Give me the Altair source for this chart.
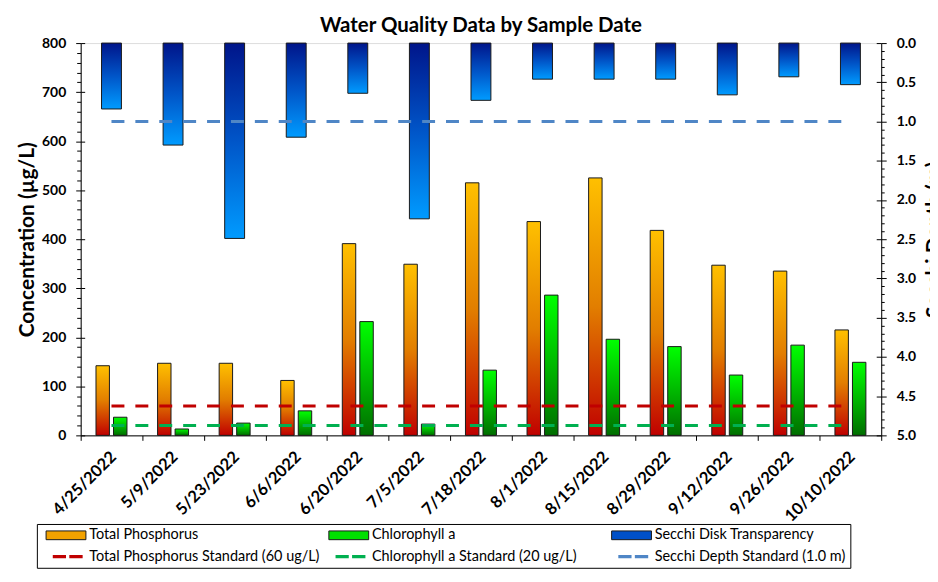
import altair as alt
import pandas as pd

# ---------------- data ----------------
dates = ["4/25/2022", "5/9/2022", "5/23/2022", "6/6/2022", "6/20/2022", "7/5/2022",
         "7/18/2022", "8/1/2022", "8/15/2022", "8/29/2022", "9/12/2022", "9/26/2022",
         "10/10/2022"]
total_phosphorus = [142, 147, 147, 112, 391, 349, 515, 436, 525, 418, 347, 335, 215]
chlorophyll_a = [37, 13, 25, 50, 232, 23, 133, 286, 196, 181, 123, 184, 149]
secchi_depth = [0.84, 1.30, 2.49, 1.20, 0.64, 2.24, 0.73, 0.46, 0.46, 0.46, 0.66, 0.43, 0.53]

tp_standard = 60
chl_standard = 20
secchi_standard = 1.0

legend_names = ["Total Phosphorus", "Chlorophyll a", "Secchi Disk Transparency",
                "Total Phosphorus Standard (60 ug/L)", "Chlorophyll a Standard (20 ug/L)",
                "Secchi Depth Standard (1.0 m)"]
conc_ticks = list(range(0, 801, 100))
conc_minor = [v for v in range(0, 801, 20) if v % 100]
secchi_ticks = [i / 2 for i in range(11)]
secchi_minor = [i / 10 for i in range(51) if i % 5]

# ---------------- tables ----------------
df = pd.DataFrame({"date": dates, "tp": total_phosphorus, "chl": chlorophyll_a,
                   "secchi": secchi_depth})
std_df = pd.DataFrame({"start": [dates[0]], "end": [dates[-1]], "tp": [tp_standard],
                       "chl": [chl_standard], "secchi": [secchi_standard]})
leg_df = pd.DataFrame({"series": legend_names, "y": [0.0] * len(legend_names)})

W, H = 804, 394
FONT = "Lato"

def grad(stops):
    return alt.LinearGradient(gradient="linear", x1=0, x2=0, y1=0, y2=1,
                              stops=[alt.GradientStop(color=c, offset=o) for o, c in stops])

tp_fill = grad([(0, "#FFC000"), (0.5, "#E27E00"), (1, "#C00000")])
chl_fill = grad([(0, "#00FF00"), (0.5, "#00B800"), (1, "#006E00")])
sec_fill = grad([(0, "#00158A"), (0.5, "#0055C8"), (1, "#009BFF")])

x_scale = alt.Scale(domain=dates, paddingInner=0, paddingOuter=0)
x_axis = alt.Axis(title=None, labelAngle=-45, labelAlign="right", labelBaseline="top",
                  labelFont=FONT, labelFontSize=16.5, labelFontWeight="bold", labelColor="black",
                  tickBand="extent", tickSize=5, tickColor="black", domainColor="black",
                  labelPadding=8, labelOffset=-4, grid=False)
X = alt.X("date:N", scale=x_scale, axis=x_axis)

conc_scale = alt.Scale(domain=[0, 800], nice=False, zero=True)
sec_scale = alt.Scale(domain=[0, 5], reverse=True, nice=False, zero=True)

axis_common = dict(grid=False, tickColor="black", domainColor="black", labelColor="black")

left_major = alt.Axis(orient="left", values=conc_ticks, title="Concentration (µg/L)",
                      labelFont=FONT, labelFontSize=14, labelFontWeight="bold",
                      tickSize=5, labelPadding=10, titleFont=FONT, titleFontSize=21,
                      titleFontWeight="bold", titleColor="black", titlePadding=4,
                      **axis_common)
left_minor = alt.Axis(orient="left", values=conc_minor, labels=False, domain=False,
                      tickSize=4, title=None, grid=False, tickColor="black")
left_inward = alt.Axis(orient="right", offset=-W, values=conc_ticks, labels=False,
                       domain=False, tickSize=4, title=None, grid=False, tickColor="black")
right_major = alt.Axis(orient="right", values=secchi_ticks, format=".1f",
                       title="Secchi Depth (m)", labelFont=FONT, labelFontSize=14,
                       labelFontWeight="bold", tickSize=5, labelPadding=10,
                       titleFont=FONT, titleFontSize=21, titleFontWeight="bold",
                       titleColor="black", titleAngle=270, titleBaseline="top",
                       titlePadding=8, **axis_common)
right_minor = alt.Axis(orient="right", values=secchi_minor, labels=False, domain=False,
                       tickSize=3, title=None, grid=False, tickColor="black")
right_inward = alt.Axis(orient="left", offset=-W, values=secchi_ticks, labels=False,
                        domain=False, tickSize=5, title=None, grid=False, tickColor="black")

base = alt.Chart(df)
std = alt.Chart(std_df)

tp_bars = base.mark_bar(fill=tp_fill, stroke="#1a1a1a", strokeWidth=1, width=13.5,
                        xOffset=-8.8).encode(
    x=X, y=alt.Y("tp:Q", scale=conc_scale, axis=left_major))
chl_bars = base.mark_bar(fill=chl_fill, stroke="#1a1a1a", strokeWidth=1, width=13.5,
                         xOffset=8.8).encode(
    x=X, y=alt.Y("chl:Q", scale=conc_scale, axis=left_minor))
sec_bars = base.mark_bar(fill=sec_fill, stroke="#1a1a1a", strokeWidth=1, width=20).encode(
    x=X, y=alt.Y("secchi:Q", scale=sec_scale, axis=right_major))

tp_std = std.mark_rule(color="#C00000", strokeWidth=3, strokeDash=[13, 11]).encode(
    x=alt.X("start:N", scale=x_scale, axis=x_axis), x2="end:N",
    y=alt.Y("tp:Q", scale=conc_scale, axis=left_inward))
chl_std = std.mark_rule(color="#00B050", strokeWidth=3, strokeDash=[13, 11]).encode(
    x=alt.X("start:N", scale=x_scale, axis=x_axis), x2="end:N",
    y=alt.Y("chl:Q", scale=conc_scale, axis=None))
sec_std = std.mark_rule(color="#4F86C6", strokeWidth=3, strokeDash=[13, 11]).encode(
    x=alt.X("start:N", scale=x_scale, axis=x_axis), x2="end:N",
    y=alt.Y("secchi:Q", scale=sec_scale, axis=right_minor))

# legend swatches: small nominal symbol size, paths reaching past the unit box;
# the dash swatch carries an empty guide segment so both swatch kinds share one extent
bar_path = "M-0.5,-1.1H9.5V1.1H-0.5Z"
dash_path = "M-0.5,0H9.5 M1.18,-0.4H4.5V0.4H1.18Z M5.33,-0.4H8.68V0.4H5.33Z"
leg_fill = ["#F2A200", "#00E000", "#0050C8", "#C00000", "#00B050", "#4F86C6"]
leg_stroke = ["#1a1a1a", "#1a1a1a", "#1a1a1a", "transparent", "transparent", "transparent"]
leg_shape = [bar_path, bar_path, bar_path, dash_path, dash_path, dash_path]

leg = alt.Legend(title=None, orient="none", legendX=-44, legendY=483,
                 direction="horizontal", columns=3, gridAlign="all", columnPadding=3,
                 rowPadding=6.5, padding=4, strokeColor="black", labelFont=FONT,
                 labelFontSize=14.5, labelColor="black", symbolSize=64,
                 symbolStrokeWidth=1, symbolOpacity=1, labelLimit=500, labelOffset=34)

legend_layer = alt.Chart(leg_df).mark_point(filled=True, opacity=0).encode(
    y=alt.Y("y:Q", scale=sec_scale, axis=right_inward),
    fill=alt.Fill("series:N", scale=alt.Scale(domain=legend_names, range=leg_fill), legend=leg),
    stroke=alt.Stroke("series:N", scale=alt.Scale(domain=legend_names, range=leg_stroke), legend=leg),
    shape=alt.Shape("series:N", scale=alt.Scale(domain=legend_names, range=leg_shape), legend=leg),
)

chart = alt.layer(sec_bars, tp_bars, chl_bars, tp_std, chl_std, sec_std, legend_layer).resolve_scale(
    y="independent"
).properties(
    width=W, height=H,
    autosize=alt.AutoSizeParams(type="none"),
    padding={"left": 73, "top": 34, "right": 49, "bottom": 134},
    title=alt.TitleParams("Water Quality Data by Sample Date", font=FONT, fontSize=20.5,
                          fontWeight="bold", color="black", anchor="middle", frame="group",
                          baseline="alphabetic", offset=2, dy=18),
).configure_view(stroke="#333333").configure(background="white")

chart.save("out.html", embed_options={"renderer": "svg", "actions": False})
